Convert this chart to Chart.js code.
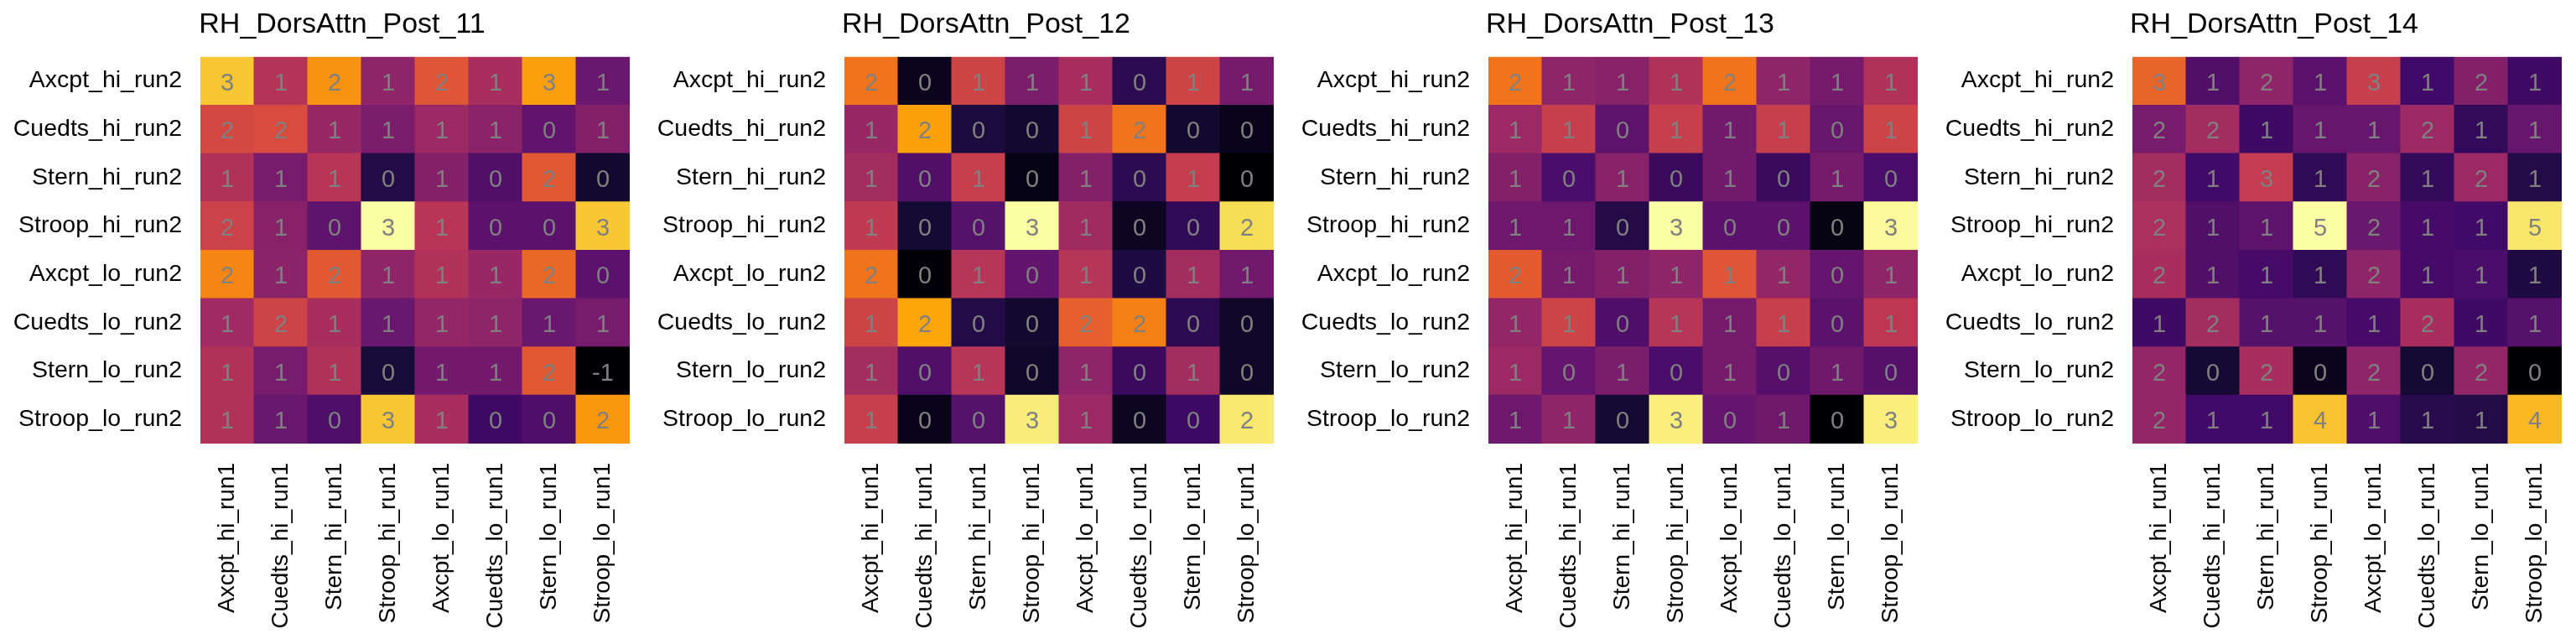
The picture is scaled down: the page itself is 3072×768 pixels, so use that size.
<!DOCTYPE html>
<html>
<head>
<meta charset="utf-8">
<script src="https://cdn.jsdelivr.net/npm/chart.js@4.4.0/dist/chart.umd.min.js"></script>
<style>
  html, body { margin: 0; padding: 0; background: #fff; }
  body { width: 3072px; height: 768px; position: relative; overflow: hidden; }
  canvas { position: absolute; top: 0; }
</style>
</head>
<body>
<canvas id="c0" width="816" height="768" style="left:0px"></canvas>
<canvas id="c1" width="816" height="768" style="left:768px"></canvas>
<canvas id="c2" width="816" height="768" style="left:1536px"></canvas>
<canvas id="c3" width="816" height="768" style="left:2304px"></canvas>
<script>
const titles = ['RH_DorsAttn_Post_11', 'RH_DorsAttn_Post_12', 'RH_DorsAttn_Post_13', 'RH_DorsAttn_Post_14'];
const rowLabels = ['Axcpt_hi_run2', 'Cuedts_hi_run2', 'Stern_hi_run2', 'Stroop_hi_run2',
                   'Axcpt_lo_run2', 'Cuedts_lo_run2', 'Stern_lo_run2', 'Stroop_lo_run2'];
const colLabels = ['Axcpt_hi_run1', 'Cuedts_hi_run1', 'Stern_hi_run1', 'Stroop_hi_run1',
                   'Axcpt_lo_run1', 'Cuedts_lo_run1', 'Stern_lo_run1', 'Stroop_lo_run1'];

// one row per run2 condition, one column per run1 condition
const post11 = [
  [2.87, 1.28, 2.42, 0.91, 1.81, 1.16, 2.54, 0.54],
  [1.65, 1.69, 0.99, 0.71, 1.03, 0.87, 0.46, 0.79],
  [1.24, 0.67, 1.32, -0.15, 0.79, 0.30, 1.85, -0.35],
  [1.55, 0.83, 0.42, 3.40, 1.32, 0.38, 0.38, 2.87],
  [2.30, 0.87, 1.85, 0.91, 1.24, 0.99, 2.01, 0.38],
  [1.07, 1.56, 1.16, 0.54, 0.95, 0.91, 0.54, 0.67],
  [1.24, 0.67, 1.24, -0.27, 0.63, 0.63, 1.85, -0.68],
  [1.24, 0.54, 0.26, 2.87, 1.16, 0.10, 0.26, 2.46]
];
const post12 = [
  [1.70, -0.27, 1.27, 0.62, 0.96, 0.04, 1.27, 0.59],
  [0.84, 2.01, -0.08, -0.17, 1.27, 1.70, -0.17, -0.30],
  [0.93, 0.32, 1.21, -0.33, 0.69, 0.04, 1.18, -0.42],
  [1.15, -0.14, 0.35, 2.65, 0.90, -0.24, 0.07, 2.40],
  [1.70, -0.39, 1.08, 0.45, 1.08, -0.05, 0.93, 0.55],
  [1.27, 2.04, -0.02, -0.17, 1.54, 1.79, 0.04, -0.21],
  [0.93, 0.32, 1.08, -0.21, 0.78, 0.13, 0.93, -0.21],
  [1.21, -0.30, 0.35, 2.51, 0.87, -0.24, 0.16, 2.48]
];
const post13 = [
  [1.72, 0.78, 0.72, 1.03, 1.72, 0.78, 0.59, 1.03],
  [0.87, 1.22, 0.40, 1.22, 0.56, 1.22, 0.47, 1.28],
  [0.69, 0.25, 0.72, 0.12, 0.56, 0.12, 0.59, 0.25],
  [0.53, 0.53, -0.03, 2.69, 0.37, 0.37, -0.35, 2.66],
  [1.53, 0.59, 0.69, 0.78, 1.47, 0.81, 0.46, 0.78],
  [0.81, 1.28, 0.28, 1.09, 0.59, 1.22, 0.37, 1.13],
  [0.87, 0.46, 0.62, 0.25, 0.59, 0.34, 0.54, 0.34],
  [0.53, 0.78, -0.16, 2.56, 0.46, 0.54, -0.44, 2.56]
];
const post14 = [
  [3.37, 1.21, 2.00, 1.32, 2.74, 1.00, 1.84, 0.95],
  [1.69, 2.26, 0.95, 1.48, 1.48, 2.16, 0.84, 1.48],
  [2.26, 1.00, 2.69, 0.79, 1.90, 0.84, 2.16, 0.63],
  [2.37, 1.21, 1.37, 5.21, 1.53, 1.05, 1.00, 4.89],
  [2.32, 1.21, 1.05, 0.79, 2.00, 1.05, 1.11, 0.58],
  [0.95, 2.26, 1.27, 1.27, 1.05, 2.32, 0.95, 1.27],
  [2.05, 0.42, 2.32, 0.21, 2.00, 0.42, 2.05, -0.05],
  [2.05, 1.00, 1.00, 4.47, 1.16, 0.69, 0.63, 4.37]
];
const panels = [post11, post12, post13, post14];

// inferno colormap stops
const inferno = ['#000004', '#160b39', '#420a68', '#6a176e', '#932667', '#bc3754',
                 '#dd513a', '#f37819', '#fca50a', '#f6d746', '#fcffa4'];

function hexRgb(h) {
  return [parseInt(h.slice(1, 3), 16), parseInt(h.slice(3, 5), 16), parseInt(h.slice(5, 7), 16)];
}

function infernoColor(t) {
  t = Math.max(0, Math.min(1, t));
  const pos = t * (inferno.length - 1);
  const i = Math.min(Math.floor(pos), inferno.length - 2);
  const f = pos - i;
  const a = hexRgb(inferno[i]), b = hexRgb(inferno[i + 1]);
  const c = a.map((v, k) => Math.round(v + (b[k] - v) * f));
  return `rgb(${c[0]},${c[1]},${c[2]})`;
}

Chart.defaults.font.family = '"Liberation Sans", Arial, sans-serif';
Chart.defaults.color = '#000';

const cellText = {
  id: 'cellText',
  afterDatasetsDraw(chart) {
    const ctx = chart.ctx;
    ctx.save();
    ctx.font = '29px "Liberation Sans", Arial, sans-serif';
    ctx.fillStyle = '#808080';
    ctx.textAlign = 'center';
    ctx.textBaseline = 'middle';
    chart.data.datasets.forEach((ds, d) => {
      chart.getDatasetMeta(d).data.forEach((bar, i) => {
        const p = bar.getCenterPoint();
        ctx.fillText(String(Math.round(ds.values[i])), p.x, p.y + 3);
      });
    });
    ctx.restore();
  }
};

panels.forEach((values, p) => {
  const flat = values.flat();
  const vmin = Math.min(...flat);
  const vmax = Math.max(...flat);

  // stacked bars: first dataset sits at the bottom, so go from the last row up
  const datasets = [];
  for (let r = rowLabels.length - 1; r >= 0; r--) {
    datasets.push({
      label: rowLabels[r],
      data: colLabels.map(() => 1),
      values: values[r],
      backgroundColor: values[r].map(v => infernoColor((v - vmin) / (vmax - vmin))),
      borderWidth: 0,
      barPercentage: 1,
      categoryPercentage: 1,
      inflateAmount: 0.5
    });
  }

  new Chart(document.getElementById('c' + p), {
    type: 'bar',
    data: { labels: colLabels, datasets: datasets },
    options: {
      responsive: false,
      animation: false,
      devicePixelRatio: 1,
      layout: { padding: 0 },
      plugins: {
        legend: { display: false },
        tooltip: { enabled: false },
        title: {
          display: true,
          text: titles[p],
          color: '#000',
          font: { size: 34, weight: 'normal' },
          padding: { top: 9, bottom: 18 }
        }
      },
      scales: {
        x: {
          stacked: true,
          grid: { display: false, drawTicks: false },
          border: { display: false },
          ticks: { autoSkip: false, minRotation: 90, maxRotation: 90, padding: 23, font: { size: 28 }, color: '#000' },
          afterFit(s) { s.height = 239; }
        },
        y: {
          type: 'linear',
          stacked: true,
          min: 0,
          max: rowLabels.length,
          grid: { display: false, drawTicks: false },
          border: { display: false },
          afterBuildTicks(s) { s.ticks = rowLabels.map((_, i) => ({ value: rowLabels.length - 0.5 - i })); },
          ticks: { autoSkip: false, padding: 22, font: { size: 28.5 }, color: '#000', callback: (v, i) => rowLabels[i] },
          afterFit(s) { s.width = 239; }
        },
        // empty right-hand spacer so the title centres where the reference has it
        y2: {
          type: 'linear',
          position: 'right',
          grid: { display: false, drawTicks: false },
          border: { display: false },
          ticks: { display: false },
          afterFit(s) { s.width = 65; }
        }
      }
    },
    plugins: [cellText]
  });
});
</script>
</body>
</html>
